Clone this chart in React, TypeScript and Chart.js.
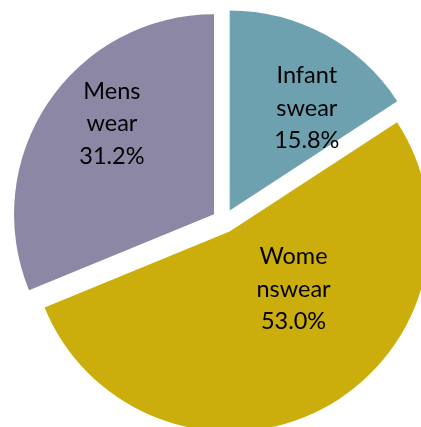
import React, { useEffect, useRef } from "react";
import { Chart, registerables, ArcElement, PieController } from "chart.js";

Chart.register(...registerables);

// ---- data ----
const categories = ["Infant swear", "Womenswear", "Mens wear"];
const labelLines = [["Infant", "swear"], ["Wome", "nswear"], ["Mens", "wear"]];
const percentValues = [15.8, 53.0, 31.2];
const sliceColors = ["#6EA1B0", "#CBAE0C", "#8B87A5"];
// label placement relative to each slice's mid-angle (degrees) and radius fraction
const labelAngleShift = [8.6, -20.3, 7.8];
const labelRadiusFrac = [0.64, 0.43, 0.683];

const EXPLODE = 12;
const FONT_FAMILY = "Lato, 'Open Sans', sans-serif";
const FONT_SIZE = 23.5;
const LINE_HEIGHT = 32.5;

class ExplodedArc extends (ArcElement as any) {
  static id = "explodedArc";
  draw(ctx: CanvasRenderingContext2D) {
    const self: any = this;
    const mid = (self.startAngle + self.endAngle) / 2;
    ctx.save();
    ctx.translate(Math.cos(mid) * EXPLODE, Math.sin(mid) * EXPLODE);
    super.draw(ctx);
    ctx.restore();
  }
}

class ExplodedPieController extends (PieController as any) {
  static id = "explodedPie";
  static defaults = { dataElementType: "explodedArc" };
}

Chart.register(ExplodedArc as any, ExplodedPieController as any);

const labelPlugin = {
  id: "sliceLabels",
  afterDatasetsDraw(chart: any) {
    const meta = chart.getDatasetMeta(0);
    const ctx: CanvasRenderingContext2D = chart.ctx;
    ctx.save();
    ctx.font = `${FONT_SIZE}px ${FONT_FAMILY}`;
    ctx.fillStyle = "#000000";
    ctx.textAlign = "center";
    ctx.textBaseline = "middle";
    meta.data.forEach((el: any, i: number) => {
      const mid = (el.startAngle + el.endAngle) / 2;
      const cx = el.x + Math.cos(mid) * EXPLODE;
      const cy = el.y + Math.sin(mid) * EXPLODE;
      const ang = mid + (labelAngleShift[i] * Math.PI) / 180;
      const r = labelRadiusFrac[i] * el.outerRadius;
      const px = cx + Math.cos(ang) * r;
      const py = cy + Math.sin(ang) * r;
      const lines = [...labelLines[i], percentValues[i].toFixed(1) + "%"];
      const n = lines.length;
      lines.forEach((t, k) => {
        ctx.fillText(t, px, py + (k - (n - 1) / 2) * LINE_HEIGHT);
      });
    });
    ctx.restore();
  },
};

export default function App() {
  const ref = useRef<HTMLCanvasElement | null>(null);
  useEffect(() => {
    if (!ref.current) return;
    const chart = new Chart(ref.current, {
      type: "explodedPie" as any,
      data: {
        labels: categories,
        datasets: [
          {
            data: percentValues,
            backgroundColor: sliceColors,
            borderWidth: 0,
            offset: 0,
          } as any,
        ],
      },
      options: {
        responsive: false,
        animation: false,
        layout: { padding: { left: 24, top: 21, right: 24, bottom: 21 } },
        plugins: {
          legend: { display: false },
          tooltip: { enabled: false },
        },
        events: [],
      } as any,
      plugins: [labelPlugin],
    });
    return () => chart.destroy();
  }, []);
  return (
    <div
      style={{
        position: "fixed",
        left: 0,
        top: 0,
        width: 421,
        height: 427,
        overflow: "hidden",
        background: "#ffffff",
      }}
    >
      <canvas
        ref={ref}
        width={448}
        height={442}
        style={{ position: "absolute", left: 0, top: 0, width: 448, height: 442 }}
      />
    </div>
  );
}
